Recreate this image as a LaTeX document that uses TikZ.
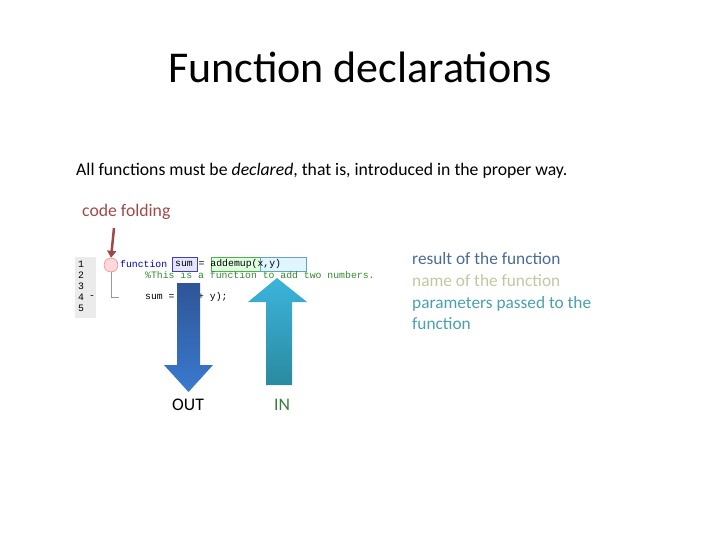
\documentclass[tikz,border=0pt]{standalone}
\usepackage{fontspec}
\setmainfont{Carlito}
\setmonofont{Liberation Mono}
\usetikzlibrary{arrows.meta}
\definecolor{codered}{HTML}{A04848}
\definecolor{resc}{HTML}{4A6A9A}
\definecolor{namec}{HTML}{C0C8A0}
\definecolor{parc}{HTML}{4AA0B0}
\definecolor{ing}{HTML}{3A7A3A}
\definecolor{cgreen}{HTML}{2E8B2E}
\definecolor{dtop}{HTML}{2F5597}
\definecolor{dbot}{HTML}{3A7AD0}
\definecolor{utop}{HTML}{3CB4DC}
\definecolor{ubot}{HTML}{2A8AA0}
\tikzset{
 body/.style={anchor=west,inner sep=0pt,font=\fontsize{17.7}{21}\selectfont},
 code/.style={anchor=west,inner sep=0pt,font=\ttfamily\fontsize{9.8}{11}\selectfont},
 lbl/.style={anchor=west,inner sep=0pt,font=\fontsize{17.3}{21.5}\selectfont,align=left}
}
\begin{document}
\begin{tikzpicture}[x=1pt,y=-1pt]
\useasboundingbox (0,0) rectangle (720,540);
\node[inner sep=0pt,font=\fontsize{44}{52}\selectfont] (title) at (360,67) {Function declarations};
\node[body] (intro) at (76,171) {All functions must be \textit{declared}, that is, introduced in the proper way.};
\node[body,text=codered] (fold) at (82,212) {code folding};
% gutter
\fill[black!8] (75,257) rectangle (96,318);
\foreach \n [count=\i] in {1,...,5} \node[code] (ln\i) at (78,253+11*\i) {\n};
\node[code] (dash) at (89,297) {-};
% boxes
\fill[blue!10,draw=blue!50!gray] (172,257) rectangle (197,271);
\fill[green!12,draw=green!40!gray] (211,257) rectangle (260,271);
\fill[cyan!12,draw=cyan!50!gray] (260,257) rectangle (306,271);
\draw[black!40] (111,270) -- (111,297) -- (119,297);
\node[circle,draw=red!60,fill=red!15,minimum size=14pt,inner sep=0pt] (circ) at (111,265) {};
\node[code,text=blue!70!black] (kw) at (120,264) {function};
\node[code] (c1) at (175,264) {sum = addemup(x,y)};
\node[code,text=cgreen] (c2) at (145,275) {\%This is a function to add two numbers.};
\node[code] (c4) at (145,297) {sum = (x + y);};
% red arrow
\coordinate (ra) at (114,228);
\draw[codered,line width=2.5pt,-{Triangle[length=7pt,width=9pt]}] (ra) -- (circ.north);
% big arrows
\shade[top color=dtop,bottom color=dbot] (177,283) -- (200,283) -- (200,365) -- (213,365) -- (188.5,392) -- (164,365) -- (177,365) -- cycle;
\shade[top color=utop,bottom color=ubot] (277,278) -- (307,302) -- (292,302) -- (292,385) -- (266,385) -- (266,302) -- (248,302) -- cycle;
\node[body] (out) at (172,405) {OUT};
\node[body,text=ing] (in) at (274,405) {IN};
\node[lbl] (l1) at (412,259) {\textcolor{resc}{result of the function}};
\node[lbl] (l2) at (412,281) {\textcolor{namec}{name of the function}};
\node[lbl] (l3) at (412,313) {\textcolor{parc}{parameters passed to the}\\\textcolor{parc}{function}};
\end{tikzpicture}
\end{document}
